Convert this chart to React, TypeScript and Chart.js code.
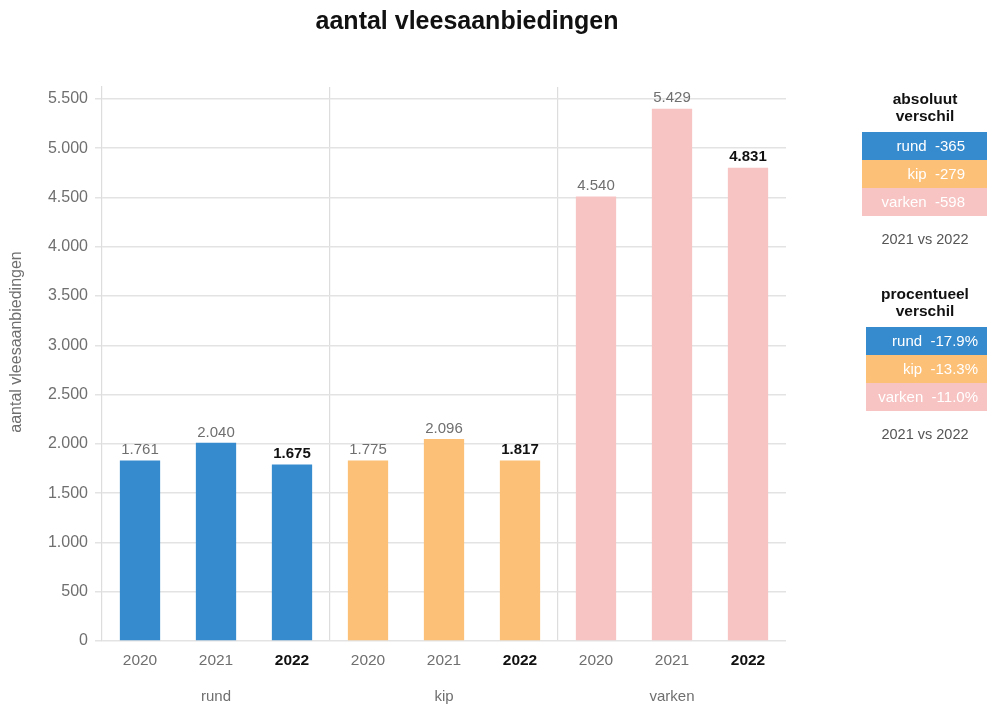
import React, { useEffect, useRef } from "react";
import { Chart, registerables } from "chart.js";

Chart.register(...registerables);

// ---- data ----
const groups = ["rund", "kip", "varken"];
const years = ["2020", "2021", "2022"];
// bar heights as drawn in the picture
const rundBars = [1830, 2010, 1790];
const kipBars = [1830, 2050, 1830];
const varkenBars = [4510, 5400, 4800];
// value labels printed above the bars
const rundLabels = ["1.761", "2.040", "1.675"];
const kipLabels = ["1.775", "2.096", "1.817"];
const varkenLabels = ["4.540", "5.429", "4.831"];
// side tables
const absDiff = ["-365", "-279", "-598"];
const pctDiff = ["-17.9%", "-13.3%", "-11.0%"];
const compareLabel = "2021 vs 2022";
// y-axis ticks
const yTicks = [0, 500, 1000, 1500, 2000, 2500, 3000, 3500, 4000, 4500, 5000, 5500];

const groupColors = ["#368bce", "#fcc077", "#f7c4c3"];
const FONT = "'Liberation Sans', Arial, Helvetica, sans-serif";

const fmt = (v: number) =>
  v >= 1000 ? `${Math.floor(v / 1000)}.${String(v % 1000).padStart(3, "0")}` : String(v);

export default function App() {
  const ref = useRef<HTMLCanvasElement | null>(null);

  useEffect(() => {
    if (!ref.current) return;
    const labels = [...years, ...years, ...years];
    const values = [...rundBars, ...kipBars, ...varkenBars];
    const valueLabels = [...rundLabels, ...kipLabels, ...varkenLabels];
    const colors = values.map((_, i) => groupColors[Math.floor(i / 3)]);

    const overlay = {
      id: "overlay",
      afterDatasetsDraw(chart: any) {
        const ctx = chart.ctx as CanvasRenderingContext2D;
        ctx.save();
        // value labels
        const meta = chart.getDatasetMeta(0);
        meta.data.forEach((bar: any, i: number) => {
          const bold = i % 3 === 2;
          ctx.font = `${bold ? "bold " : ""}15px ${FONT}`;
          ctx.fillStyle = bold ? "#111111" : "#6f6f6f";
          ctx.textAlign = "center";
          ctx.textBaseline = "bottom";
          ctx.fillText(valueLabels[i], bar.x, bar.y - 3);
        });

        // main title
        ctx.font = `bold 25px ${FONT}`;
        ctx.fillStyle = "#111111";
        ctx.textAlign = "center";
        ctx.textBaseline = "middle";
        ctx.fillText("aantal vleesaanbiedingen", 467, 22);

        // y-axis title
        ctx.save();
        ctx.translate(17, 342);
        ctx.rotate(-Math.PI / 2);
        ctx.font = `16px ${FONT}`;
        ctx.fillStyle = "#6f6f6f";
        ctx.textAlign = "center";
        ctx.textBaseline = "middle";
        ctx.fillText("aantal vleesaanbiedingen", 0, 0);
        ctx.restore();

        // side tables
        const drawTable = (
          titleTop: number,
          title1: string,
          title2: string,
          boxLeft: number,
          textRight: number,
          vals: string[]
        ) => {
          ctx.font = `bold 15.5px ${FONT}`;
          ctx.fillStyle = "#111111";
          ctx.textAlign = "center";
          ctx.textBaseline = "middle";
          ctx.fillText(title1, 925, titleTop);
          ctx.fillText(title2, 925, titleTop + 17);
          const boxTop = titleTop + 32;
          const rowH = 28;
          vals.forEach((v, i) => {
            ctx.fillStyle = groupColors[i];
            ctx.fillRect(boxLeft, boxTop + i * rowH, 987 - boxLeft, rowH);
            ctx.fillStyle = "#ffffff";
            ctx.font = `15px ${FONT}`;
            ctx.textAlign = "right";
            ctx.textBaseline = "middle";
            ctx.fillText(`${groups[i]}  ${v}`, textRight, boxTop + i * rowH + rowH / 2 + 1);
          });
          ctx.fillStyle = "#555555";
          ctx.font = `14.5px ${FONT}`;
          ctx.textAlign = "center";
          ctx.fillText(compareLabel, 925, boxTop + 3 * rowH + 24);
        };
        drawTable(100, "absoluut", "verschil", 862, 965, absDiff);
        drawTable(295, "procentueel", "verschil", 866, 978, pctDiff);
        ctx.restore();
      },
    };

    const chart = new Chart(ref.current, {
      type: "bar",
      data: {
        labels,
        datasets: [
          {
            data: values,
            backgroundColor: colors,
            borderWidth: 0,
            barPercentage: 0.53,
            categoryPercentage: 1,
          },
        ],
      },
      options: {
        responsive: false,
        animation: false,
        layout: { padding: { top: 87, right: 201, bottom: 0, left: 0 } },
        plugins: {
          legend: { display: false },
          tooltip: { enabled: false },
          title: { display: false },
        },
        scales: {
          x: {
            type: "category",
            position: "bottom",
            weight: 0,
            offset: true,
            grid: {
              offset: true,
              drawTicks: false,
              lineWidth: 1.2,
              color: (c: any) => (c.index === 3 || c.index === 6 ? "#dddddd" : "rgba(0,0,0,0)"),
            },
            border: { display: false },
            ticks: {
              autoSkip: false,
              maxRotation: 0,
              padding: 10,
              color: (c: any) => (c.index % 3 === 2 ? "#111111" : "#6f6f6f"),
              font: (c: any) => ({
                family: FONT,
                size: 15.5,
                weight: c.index % 3 === 2 ? "bold" : "normal",
              }),
            },
            afterFit: (s: any) => {
              s.height = 36;
            },
          },
          x2: {
            type: "category",
            labels: groups,
            position: "bottom",
            weight: 1,
            offset: true,
            grid: { display: false, drawTicks: false },
            border: { display: false },
            ticks: {
              padding: 11,
              color: "#6f6f6f",
              font: { family: FONT, size: 15 },
            },
            afterFit: (s: any) => {
              s.height = 27;
            },
          },
          y: {
            min: 0,
            max: 5620,
            grid: { color: "#e3e3e3", lineWidth: 1.5, tickLength: 7 },
            border: { display: true, color: "#dddddd", width: 1.2 },
            ticks: {
              autoSkip: false,
              padding: 7,
              color: "#6f6f6f",
              font: { family: FONT, size: 16 },
              callback: (v: any) => fmt(Number(v)),
            },
            afterBuildTicks: (s: any) => {
              s.ticks = yTicks.map((v) => ({ value: v }));
            },
            afterFit: (s: any) => {
              s.width = 102;
            },
          },
        },
      },
      plugins: [overlay],
    });
    return () => chart.destroy();
  }, []);

  return (
    <div style={{ position: "absolute", left: 0, top: 0, width: 987, height: 704, background: "#fff" }}>
      <canvas ref={ref} width={987} height={704} style={{ width: 987, height: 704 }} />
    </div>
  );
}
